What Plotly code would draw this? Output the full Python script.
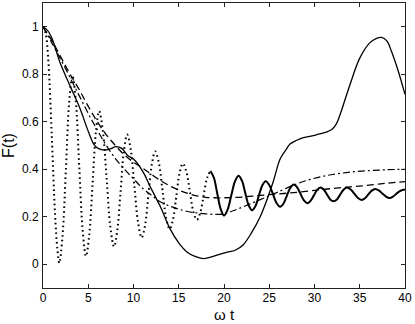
import plotly.graph_objects as go

# oscillating curve (extrema plus intermediate points)
t_osc = [0, 0.3, 0.6, 0.96, 1.33, 1.6, 1.8,
         2.16, 2.53, 2.89, 3.25, 3.63, 4.0, 4.38, 4.75,
         5.11, 5.48, 5.84, 6.2, 6.61, 7.03, 7.44, 7.85,
         8.21, 8.58, 8.94, 9.3, 9.7, 10.1, 10.5, 10.9,
         11.28, 11.65, 12.03, 12.4, 12.8, 13.2, 13.6, 14.0,
         14.36, 14.73, 15.09, 15.45, 15.84, 16.23, 16.61, 17.0,
         17.38, 17.75, 18.13, 18.5, 18.88, 19.25, 19.63, 20.0,
         20.4, 20.8, 21.2, 21.6, 21.98, 22.35, 22.73, 23.1,
         23.48, 23.85, 24.23, 24.6, 25.0, 25.4, 25.8, 26.2,
         26.58, 26.95, 27.33, 27.7, 28.08, 28.45, 28.83, 29.2,
         29.56, 29.93, 30.29, 30.65, 31.01, 31.38, 31.74, 32.1,
         32.48, 32.85, 33.23, 33.6, 34.0, 34.4, 34.8, 35.2,
         35.58, 35.95, 36.33, 36.7, 37.1, 37.5, 37.9, 38.3,
         38.68, 39.05, 39.43, 39.8, 40]
f_osc = [1.0, 0.97, 0.85, 0.55, 0.21, 0.06, 0.005,
         0.121, 0.40, 0.679, 0.795, 0.684, 0.415, 0.146, 0.034,
         0.124, 0.34, 0.556, 0.645, 0.562, 0.36, 0.158, 0.074,
         0.143, 0.31, 0.477, 0.546, 0.482, 0.329, 0.176, 0.112,
         0.165, 0.294, 0.422, 0.475, 0.427, 0.312, 0.196, 0.148,
         0.188, 0.286, 0.384, 0.424, 0.39, 0.306, 0.222, 0.187,
         0.217, 0.29, 0.363, 0.393, 0.365, 0.299, 0.233, 0.205,
         0.23, 0.289, 0.348, 0.373, 0.352, 0.30, 0.248, 0.227,
         0.245, 0.289, 0.332, 0.35, 0.334, 0.296, 0.258, 0.242,
         0.256, 0.289, 0.322, 0.336, 0.324, 0.297, 0.269, 0.257,
         0.267, 0.29, 0.313, 0.323, 0.315, 0.294, 0.273, 0.265,
         0.273, 0.294, 0.315, 0.323, 0.315, 0.297, 0.279, 0.271,
         0.278, 0.294, 0.31, 0.317, 0.311, 0.298, 0.285, 0.279,
         0.285, 0.297, 0.308, 0.314, 0.313]
split_t = 18.5

# thin solid curve
t_solid = [0, 0.5, 1.0, 1.9, 3.0, 4.1, 4.9, 5.6, 6.0, 6.6, 7.3, 8.1, 8.7, 9.4, 10.0,
           11.1, 11.8, 13.0, 14.0, 15.0, 15.9, 16.8, 17.7, 18.5, 19.5, 20.5, 21.3,
           22.1, 23.0, 24.0, 25.4, 26.2, 26.9, 27.3, 28.4, 29.3, 30.2, 31.2, 31.9,
           32.4, 32.8, 33.9, 35.0, 36.1, 36.8, 37.4, 38.0, 38.5, 39.2, 40]
f_solid = [1.0, 0.985, 0.95, 0.847, 0.75, 0.655, 0.57, 0.506, 0.49, 0.482, 0.484, 0.495,
           0.488, 0.457, 0.443, 0.386, 0.33, 0.24, 0.152, 0.09, 0.052, 0.033, 0.024, 0.03,
           0.042, 0.052, 0.06, 0.081, 0.13, 0.2, 0.343, 0.443, 0.485, 0.506, 0.528, 0.537,
           0.545, 0.555, 0.567, 0.59, 0.627, 0.754, 0.868, 0.932, 0.95, 0.955, 0.94,
           0.897, 0.82, 0.715]

# dashed curve
t_dash = [0, 1, 2, 3, 4, 5, 6, 7, 8, 9, 10, 11, 12, 13, 14, 15, 16, 17, 18, 19, 20,
          22, 24, 26, 28, 30, 32, 34, 36, 38, 40]
f_dash = [1.0, 0.94, 0.87, 0.80, 0.735, 0.665, 0.60, 0.545, 0.50, 0.46, 0.43, 0.405,
          0.378, 0.352, 0.33, 0.312, 0.298, 0.288, 0.282, 0.28, 0.28, 0.283, 0.29, 0.296,
          0.303, 0.311, 0.319, 0.326, 0.333, 0.341, 0.348]

# dash-dot curve
t_dd = [0, 1, 2, 3, 4, 5, 6, 7, 8, 9, 10, 11, 12, 13, 14, 15, 16, 17, 18, 19, 20, 21,
        22, 23, 24, 25, 26, 28, 30, 32, 34, 36, 38, 40]
f_dd = [1.0, 0.93, 0.86, 0.785, 0.71, 0.635, 0.565, 0.50, 0.445, 0.40, 0.36, 0.32,
        0.29, 0.262, 0.245, 0.232, 0.222, 0.216, 0.212, 0.21, 0.212, 0.225, 0.24, 0.256,
        0.272, 0.288, 0.305, 0.338, 0.362, 0.378, 0.388, 0.394, 0.398, 0.40]

x_ticks = [0, 5, 10, 15, 20, 25, 30, 35, 40]
y_ticks = [0, 0.2, 0.4, 0.6, 0.8, 1]
y_labels = ['0', '0.2', '0.4', '0.6', '0.8', '1']

k = t_osc.index(split_t)

fig = go.Figure()
fig.add_trace(go.Scatter(x=t_solid, y=f_solid, mode='lines', line_shape='spline',
                         line=dict(color='black', width=1.3)))
fig.add_trace(go.Scatter(x=t_dash, y=f_dash, mode='lines', line_shape='spline',
                         line=dict(color='black', width=1.3, dash='7px,4px')))
fig.add_trace(go.Scatter(x=t_dd, y=f_dd, mode='lines', line_shape='spline',
                         line=dict(color='black', width=1.2, dash='7px,3px,2px,3px')))
fig.add_trace(go.Scatter(x=t_osc[:k + 1], y=f_osc[:k + 1], mode='lines', line_shape='spline',
                         line=dict(color='black', width=2, dash='1.6px,3.2px', simplify=False)))
fig.add_trace(go.Scatter(x=t_osc[k:], y=f_osc[k:], mode='lines', line_shape='spline',
                         line=dict(color='black', width=2, simplify=False)))

axis_style = dict(showline=True, linecolor='#222', linewidth=1, mirror='ticks',
                  ticks='inside', ticklen=4, tickcolor='#222', showgrid=False,
                  zeroline=False, tickfont=dict(family='Liberation Sans, Arial', size=12, color='black'))

fig.update_layout(
    width=415, height=324,
    margin=dict(l=43, r=10, t=3, b=36),
    paper_bgcolor='white', plot_bgcolor='white',
    showlegend=False,
    font=dict(family='Liberation Sans, Arial', color='black'),
    annotations=[dict(text='ω t', xref='paper', yref='paper', x=0.5, y=-0.094,
                      xanchor='center', yanchor='middle', showarrow=False,
                      font=dict(size=15))],
)
fig.update_xaxes(range=[0, 40], tickvals=x_ticks, ticklabelstandoff=-1,
                 automargin=False, **axis_style)
fig.update_yaxes(range=[-0.1, 1.1], tickvals=y_ticks, ticktext=y_labels, ticklabelstandoff=1,
                 title=dict(text='F(t)', font=dict(size=16), standoff=6), automargin=False, **axis_style)

fig.write_html("out.html", config={'displayModeBar': False},
               post_script="document.body.style.margin='0px';")
